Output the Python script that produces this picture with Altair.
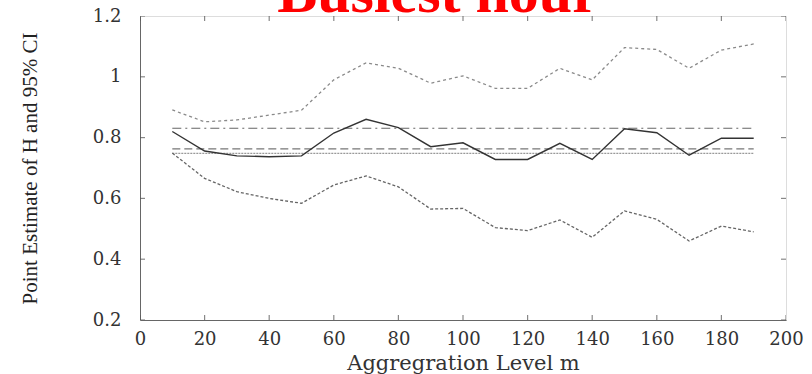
import altair as alt
import pandas as pd

title_text = "Busiest hour"

m = [10, 20, 30, 40, 50, 60, 70, 80, 90, 100, 110, 120, 130, 140, 150, 160, 170, 180, 190]
h_est = [0.82, 0.756, 0.74, 0.737, 0.74, 0.815, 0.86, 0.833, 0.77, 0.783, 0.728, 0.728, 0.781, 0.728, 0.829, 0.816, 0.742, 0.798, 0.798]
ci_upper = [0.891, 0.852, 0.858, 0.874, 0.89, 0.99, 1.046, 1.028, 0.979, 1.003, 0.962, 0.962, 1.028, 0.99, 1.096, 1.09, 1.028, 1.088, 1.108]
ci_lower = [0.749, 0.666, 0.622, 0.60, 0.584, 0.644, 0.674, 0.638, 0.565, 0.567, 0.504, 0.494, 0.529, 0.472, 0.559, 0.531, 0.46, 0.509, 0.49]

ref_levels = [0.831, 0.763, 0.748]
ref_names = ["dashdot", "dashed", "dotted"]
ref_start = [10, 10, 10]
ref_end = [190, 190, 190]

x_ticks = [0, 20, 40, 60, 80, 100, 120, 140, 160, 180, 200]
y_ticks = [0.2, 0.4, 0.6, 0.8, 1.0, 1.2]

df = pd.DataFrame({"m": m, "h": h_est, "up": ci_upper, "lo": ci_lower})
refs = pd.DataFrame({"y": ref_levels, "name": ref_names, "x0": ref_start, "x1": ref_end})
xt = pd.DataFrame({"v": x_ticks})
yt = pd.DataFrame({"v": y_ticks})

serif = "DejaVu Serif"
xscale = alt.Scale(domain=[0, 200], nice=False, zero=False)
yscale = alt.Scale(domain=[0.2, 1.2], nice=False, zero=False)

X = alt.X("m:Q", scale=xscale, axis=alt.Axis(
    title="Aggregration Level m", values=x_ticks, tickSize=0, labelPadding=10,
    format="d", grid=False, labelFont=serif, labelFontSize=18, labelColor="#333",
    titleFont=serif, titleFontSize=21, titleFontWeight="normal", titleColor="#333",
    titlePadding=4, domainColor="#666", labelFlush=False, labelOverlap=False))
Y = alt.Y("h:Q", scale=yscale, axis=alt.Axis(
    title="Point Estimate of H and 95% CI", values=y_ticks, tickSize=0, labelPadding=19,
    format="~g", grid=False, labelFont=serif, labelFontSize=18, labelColor="#333",
    titleFont="Liberation Serif", titleFontSize=21, titleFontWeight="normal", titleColor="#222",
    titlePadding=52, domainColor="#666", labelFlush=False, labelOverlap=False))

base = alt.Chart(df)
center = base.mark_line(color="#333", strokeWidth=1.4).encode(x=X, y=Y)
upper = base.mark_line(color="#8a8a8a", strokeWidth=1.3, strokeDash=[3, 3]).encode(x="m:Q", y="up:Q")
lower = base.mark_line(color="#666", strokeWidth=1.3, strokeDash=[3, 2]).encode(x="m:Q", y="lo:Q")

def ref_line(name, dash, color):
    return alt.Chart(refs).transform_filter(alt.datum.name == name).mark_rule(
        color=color, strokeWidth=1.1, strokeDash=dash).encode(x="x0:Q", x2="x1:Q", y="y:Q")

r1 = ref_line("dashdot", [9, 4, 2, 4], "#666")
r2 = ref_line("dashed", [8, 4], "#777")
r3 = ref_line("dotted", [2, 1], "#999")

tick_style = dict(clip=True, color="#555", thickness=1.2, size=10)
xt_bot = alt.Chart(xt).mark_tick(orient="vertical", **tick_style).encode(x="v:Q", y=alt.datum(0.2))
xt_top = alt.Chart(xt).mark_tick(orient="vertical", **tick_style).encode(x="v:Q", y=alt.datum(1.2))
yt_left = alt.Chart(yt).mark_tick(orient="horizontal", **tick_style).encode(y="v:Q", x=alt.datum(0))
yt_right = alt.Chart(yt).mark_tick(orient="horizontal", **tick_style).encode(y="v:Q", x=alt.datum(200))

title_mark = alt.Chart(pd.DataFrame({"t": [title_text]})).mark_text(
    color="#ff0000", font="Liberation Serif", fontSize=60, fontWeight="bold",
    align="center", baseline="alphabetic",
).encode(text="t:N", x=alt.value(298), y=alt.value(-4))

chart = alt.layer(
    r1, r2, r3, upper, lower, center, xt_bot, xt_top, yt_left, yt_right, title_mark
).properties(
    width=646, height=304,
    autosize=alt.AutoSizeParams(type="none"),
    padding={"left": 140, "top": 16, "right": 26, "bottom": 54},
).configure_view(stroke="#666", strokeWidth=1.3).configure(background="white")

chart.save("out.html", embed_options={"renderer": "svg", "actions": False})
